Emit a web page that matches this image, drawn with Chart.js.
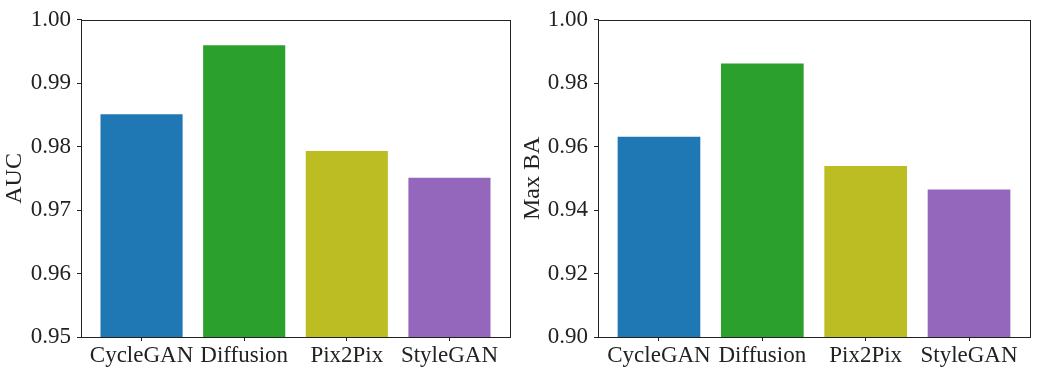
<!DOCTYPE html>
<html>
<head>
<meta charset="utf-8">
<script src="https://cdn.jsdelivr.net/npm/chart.js@4.4.1/dist/chart.umd.min.js"></script>
<style>
    html, body { margin: 0; padding: 0; background: #fff; }
    .panel { position: absolute; top: 0; height: 372px; }
    #left { left: 0; width: 518px; }
    #right { left: 518px; width: 519px; }
</style>
</head>
<body>
<div class="panel" id="left"><canvas id="aucChart"></canvas></div>
<div class="panel" id="right"><canvas id="baChart"></canvas></div>
<script>
const models = ['CycleGAN', 'Diffusion', 'Pix2Pix', 'StyleGAN'];
const aucValues = [0.9851, 0.9960, 0.9793, 0.9751];
const maxBaValues = [0.9631, 0.9862, 0.9539, 0.9465];
const aucTicks = [0.95, 0.96, 0.97, 0.98, 0.99, 1.00];
const baTicks = [0.90, 0.92, 0.94, 0.96, 0.98, 1.00];
const barColors = ['#1f77b4', '#2ca02c', '#bcbd22', '#9467bd'];

const FONT = "'Liberation Serif', 'DejaVu Serif', serif";

// full box around the plot area, like matplotlib spines
const frame = {
    id: 'frame',
    afterDraw(chart) {
        const { ctx, chartArea: a } = chart;
        ctx.save();
        ctx.strokeStyle = '#222';
        ctx.lineWidth = 1;
        ctx.strokeRect(Math.round(a.left) + 0.5, Math.round(a.top) + 0.5,
            Math.round(a.right - a.left), Math.round(a.bottom - a.top));
        ctx.restore();
    }
};

function makeChart(id, values, ticks, title, yWidth, padRight) {
    const ctx = document.getElementById(id).getContext('2d');
    return new Chart(ctx, {
        type: 'bar',
        data: {
            datasets: [{
                data: values.map((v, i) => ({ x: i, y: v })),
                backgroundColor: barColors,
                borderWidth: 0,
                categoryPercentage: 0.8,
                barPercentage: 1.0
            }]
        },
        options: {
            responsive: true,
            maintainAspectRatio: false,
            animation: false,
            layout: { padding: { top: 18, right: padRight, left: 0, bottom: 0 } },
            plugins: { legend: { display: false }, tooltip: { enabled: false } },
            scales: {
                x: {
                    type: 'linear',
                    min: -0.59,
                    max: 3.59,
                    offset: false,
                    afterBuildTicks: axis => { axis.ticks = models.map((m, i) => ({ value: i })); },
                    afterFit: axis => { axis.height = 35; },
                    ticks: {
                        callback: v => models[v],
                        font: { family: FONT, size: 23 },
                        color: '#222',
                        padding: 1,
                        maxRotation: 0,
                        autoSkip: false
                    },
                    grid: { offset: false, drawOnChartArea: false, tickLength: 4, color: '#222' },
                    border: { color: '#222' }
                },
                y: {
                    min: ticks[0],
                    max: ticks[ticks.length - 1],
                    afterBuildTicks: axis => { axis.ticks = ticks.map(t => ({ value: t })); },
                    afterFit: axis => { axis.width = yWidth; },
                    ticks: {
                        callback: v => v.toFixed(2),
                        font: { family: FONT, size: 23 },
                        color: '#222',
                        padding: 6
                    },
                    title: {
                        display: true,
                        text: title,
                        font: { family: FONT, size: 24 },
                        color: '#222',
                        padding: { top: 0, bottom: 0 }
                    },
                    grid: { drawOnChartArea: false, tickLength: 4, color: '#222' },
                    border: { color: '#222' }
                }
            }
        },
        plugins: [frame]
    });
}

makeChart('aucChart', aucValues, aucTicks, 'AUC', 81, 8);
makeChart('baChart', maxBaValues, baTicks, 'Max BA', 80, 7);
</script>
</body>
</html>
